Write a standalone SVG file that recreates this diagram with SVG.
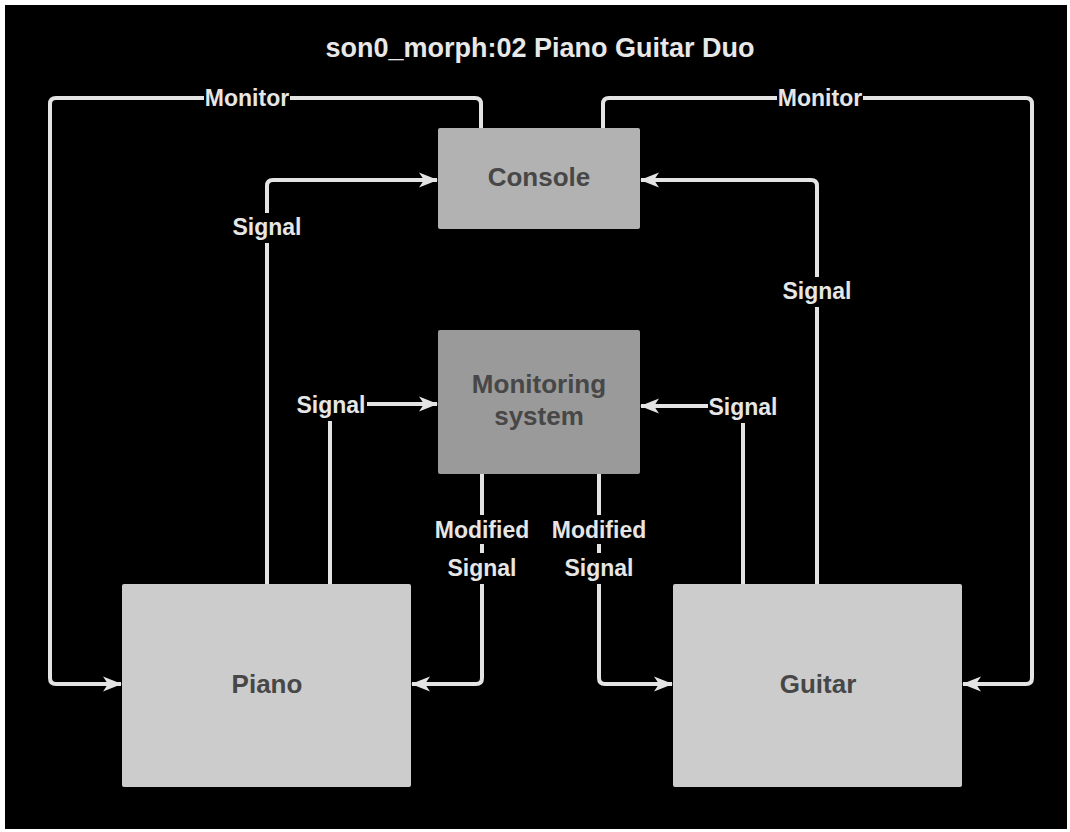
<svg xmlns="http://www.w3.org/2000/svg" width="1070" height="832" viewBox="0 0 1070 832">
<defs>
<style>
.bg{fill:#000}
.edge{fill:none;stroke:#e4e4e4;stroke-width:4;stroke-linejoin:round}
.lbl{font-family:"Liberation Sans",Arial,sans-serif;font-weight:bold;font-size:23px;fill:#e6e6e6;text-anchor:middle}
.ntxt{font-family:"Liberation Sans",Arial,sans-serif;font-weight:bold;font-size:26px;fill:#474747;text-anchor:middle}
.title{font-family:"Liberation Sans",Arial,sans-serif;font-weight:bold;font-size:27px;fill:#e8e8e8;text-anchor:middle}
</style>
<marker id="ah" markerUnits="userSpaceOnUse" markerWidth="20" markerHeight="18" refX="18" refY="9" orient="auto">
<path d="M0,1.5 L19,9 L0,16.5 L5,9 z" fill="#e4e4e4"/>
</marker>
</defs>
<rect x="0" y="0" width="1070" height="832" fill="#fff"/>
<rect x="5" y="5" width="1062" height="824" fill="#000"/>
<text class="title" x="540" y="57">son0_morph:02 Piano Guitar Duo</text>

<g id="connectors">
<path class="edge" d="M481,128 V104 Q481,98 475,98 H56 Q50,98 50,104 V678 Q50,684 56,684 H121" marker-end="url(#ah)"/>
<path class="edge" d="M603,128 V104 Q603,98 609,98 H1026 Q1032,98 1032,104 V678 Q1032,684 1026,684 H963" marker-end="url(#ah)"/>
<path class="edge" d="M267,584 V186 Q267,180 273,180 H437" marker-end="url(#ah)"/>
<path class="edge" d="M817,584 V186 Q817,180 811,180 H641" marker-end="url(#ah)"/>
<path class="edge" d="M330,584 V404 H437" marker-end="url(#ah)"/>
<path class="edge" d="M743,584 V406 H641" marker-end="url(#ah)"/>
<path class="edge" d="M482,474 V678 Q482,684 476,684 H412" marker-end="url(#ah)"/>
<path class="edge" d="M599,474 V678 Q599,684 605,684 H672" marker-end="url(#ah)"/>

<rect class="bg" x="204" y="86" width="86" height="24"/>
<text class="lbl" x="247" y="106">Monitor</text>
<rect class="bg" x="777" y="86" width="86" height="24"/>
<text class="lbl" x="820" y="106">Monitor</text>
<rect class="bg" x="231" y="213" width="73" height="30"/>
<text class="lbl" x="267" y="235">Signal</text>
<rect class="bg" x="781" y="277" width="73" height="30"/>
<text class="lbl" x="817" y="299">Signal</text>
<rect class="bg" x="296" y="391" width="71" height="30"/>
<text class="lbl" x="331" y="413">Signal</text>
<rect class="bg" x="708" y="393" width="71" height="30"/>
<text class="lbl" x="743" y="415">Signal</text>
<rect class="bg" x="429" y="515" width="106" height="29"/>
<text class="lbl" x="482" y="538">Modified</text>
<rect class="bg" x="444" y="553" width="76" height="31"/>
<text class="lbl" x="482" y="576">Signal</text>
<rect class="bg" x="546" y="515" width="106" height="29"/>
<text class="lbl" x="599" y="538">Modified</text>
<rect class="bg" x="561" y="553" width="76" height="31"/>
<text class="lbl" x="599" y="576">Signal</text>
</g>

<g id="console">
<rect x="438" y="128" width="202" height="101" rx="2" fill="#b2b2b2"/>
<text class="ntxt" x="539" y="186">Console</text>
</g>
<g id="monitoring">
<rect x="438" y="330" width="202" height="144" rx="2" fill="#9a9a9a"/>
<text class="ntxt" x="539" y="393" fill="#555">Monitoring</text>
<text class="ntxt" x="539" y="425" fill="#555">system</text>
</g>
<g id="piano">
<rect x="122" y="584" width="289" height="203" rx="2" fill="#cccccc"/>
<text class="ntxt" x="267" y="693">Piano</text>
</g>
<g id="guitar">
<rect x="673" y="584" width="289" height="203" rx="2" fill="#cccccc"/>
<text class="ntxt" x="818" y="693">Guitar</text>
</g>
</svg>
